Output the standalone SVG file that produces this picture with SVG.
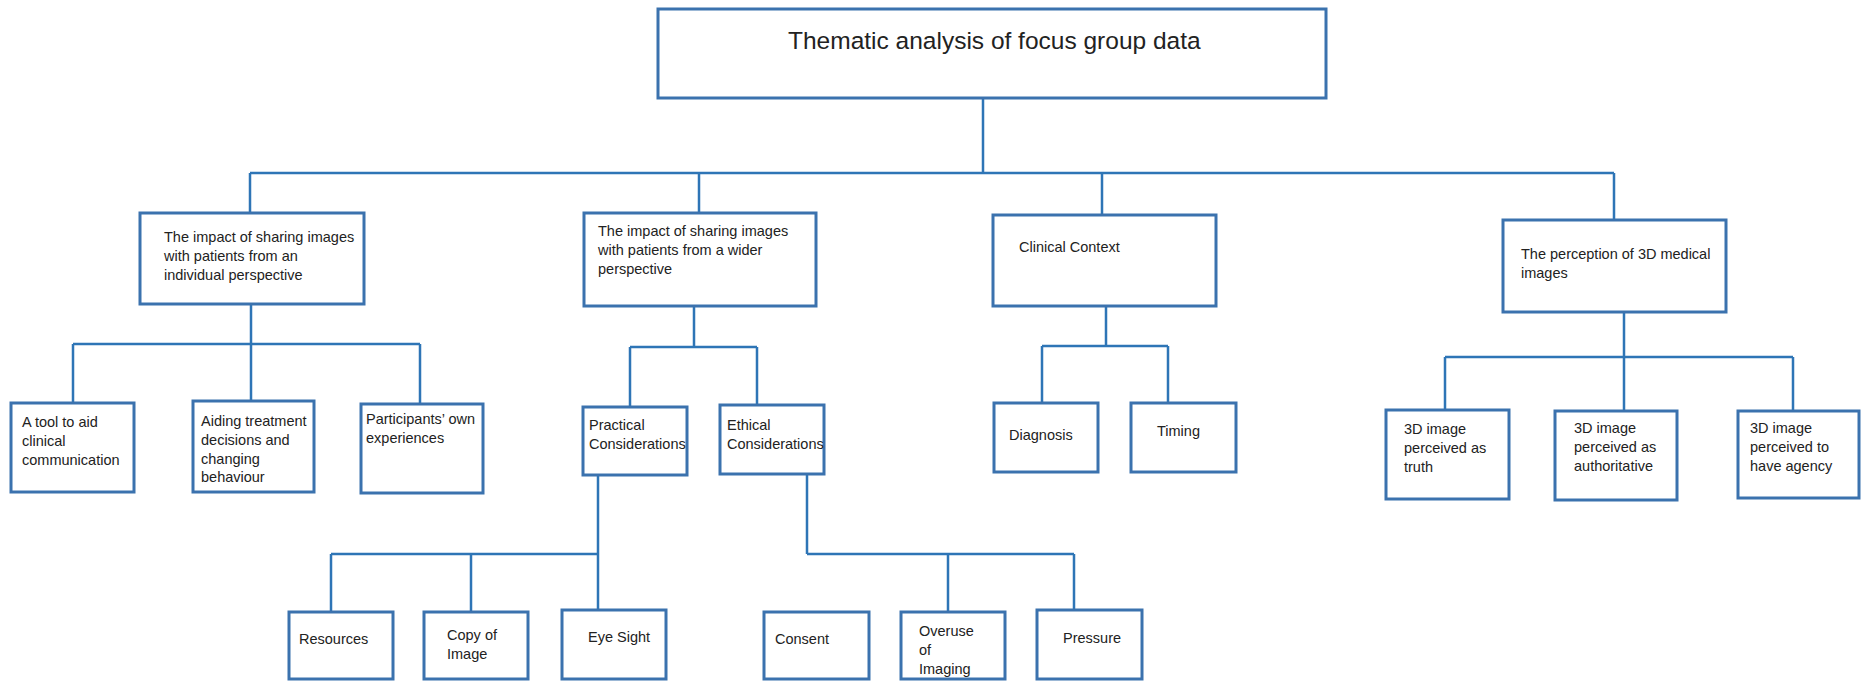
<svg xmlns="http://www.w3.org/2000/svg" width="1861" height="681" viewBox="0 0 1861 681">
<style>
  .box { fill: #ffffff; stroke: #3b72ae; stroke-width: 3; }
  .conn { fill: none; stroke: #2e75b6; stroke-width: 2.5; }
  .t { font-family: "Liberation Sans", Arial, sans-serif; font-size: 14.5px; fill: #222222; }
  .title { font-family: "Liberation Sans", Arial, sans-serif; font-size: 24.5px; fill: #222222; }
</style>
<rect width="1861" height="681" fill="#ffffff"/>
<g id="connectors">
  <path class="conn" d="M983,98 V173 M250,173 H1614 M250,173 V213 M699,173 V213 M1102,173 V215 M1614,173 V220"/>
  <path class="conn" d="M251,304 V344 M73,344 H420 M73,344 V403 M251,344 V401 M420,344 V404"/>
  <path class="conn" d="M694,306 V347 M630,347 H757 M630,347 V407 M757,347 V405"/>
  <path class="conn" d="M598,475 V554 M331,554 H598 M331,554 V612 M471,554 V612 M598,554 V610"/>
  <path class="conn" d="M807,474 V554 M807,554 H1074 M948,554 V612 M1074,554 V610"/>
  <path class="conn" d="M1106,306 V346 M1042,346 H1168 M1042,346 V403 M1168,346 V403"/>
  <path class="conn" d="M1624,312 V357 M1445,357 H1793 M1445,357 V410 M1624,357 V411 M1793,357 V411"/>
</g>
<g id="root">
  <rect class="box" x="658" y="9" width="668" height="89"/>
  <text class="title" x="788" y="49">Thematic analysis of focus group data</text>
</g>
<g id="individual">
  <rect class="box" x="140" y="213" width="224" height="91"/>
  <text class="t" x="164" y="242">The impact of sharing images</text>
  <text class="t" x="164" y="261">with patients from an</text>
  <text class="t" x="164" y="280">individual perspective</text>
</g>
<g id="wider">
  <rect class="box" x="584" y="213" width="232" height="93"/>
  <text class="t" x="598" y="236">The impact of sharing images</text>
  <text class="t" x="598" y="255">with patients from a wider</text>
  <text class="t" x="598" y="274">perspective</text>
</g>
<g id="clinical">
  <rect class="box" x="993" y="215" width="223" height="91"/>
  <text class="t" x="1019" y="252">Clinical Context</text>
</g>
<g id="perception">
  <rect class="box" x="1503" y="220" width="223" height="92"/>
  <text class="t" x="1521" y="259">The perception of 3D medical</text>
  <text class="t" x="1521" y="278">images</text>
</g>
<g id="tool">
  <rect class="box" x="11" y="403" width="123" height="89"/>
  <text class="t" x="22" y="427">A tool to aid</text>
  <text class="t" x="22" y="446">clinical</text>
  <text class="t" x="22" y="465">communication</text>
</g>
<g id="aiding">
  <rect class="box" x="193" y="401" width="121" height="91"/>
  <text class="t" x="201" y="426">Aiding treatment</text>
  <text class="t" x="201" y="445">decisions and</text>
  <text class="t" x="201" y="464">changing</text>
  <text class="t" x="201" y="482">behaviour</text>
</g>
<g id="participants">
  <rect class="box" x="361" y="404" width="122" height="89"/>
  <text class="t" x="366" y="424">Participants’ own</text>
  <text class="t" x="366" y="443">experiences</text>
</g>
<g id="practical">
  <rect class="box" x="583" y="407" width="104" height="68"/>
  <text class="t" x="589" y="430">Practical</text>
  <text class="t" x="589" y="449">Considerations</text>
</g>
<g id="ethical">
  <rect class="box" x="720" y="405" width="104" height="69"/>
  <text class="t" x="727" y="430">Ethical</text>
  <text class="t" x="727" y="449">Considerations</text>
</g>
<g id="resources">
  <rect class="box" x="289" y="612" width="104" height="67"/>
  <text class="t" x="299" y="644">Resources</text>
</g>
<g id="copy">
  <rect class="box" x="424" y="612" width="104" height="67"/>
  <text class="t" x="447" y="640">Copy of</text>
  <text class="t" x="447" y="659">Image</text>
</g>
<g id="eyesight">
  <rect class="box" x="562" y="610" width="104" height="69"/>
  <text class="t" x="588" y="642">Eye Sight</text>
</g>
<g id="consent">
  <rect class="box" x="764" y="612" width="105" height="67"/>
  <text class="t" x="775" y="644">Consent</text>
</g>
<g id="overuse">
  <rect class="box" x="901" y="612" width="104" height="67"/>
  <text class="t" x="919" y="636">Overuse</text>
  <text class="t" x="919" y="655">of</text>
  <text class="t" x="919" y="674">Imaging</text>
</g>
<g id="pressure">
  <rect class="box" x="1037" y="610" width="105" height="69"/>
  <text class="t" x="1063" y="643">Pressure</text>
</g>
<g id="diagnosis">
  <rect class="box" x="994" y="403" width="104" height="69"/>
  <text class="t" x="1009" y="440">Diagnosis</text>
</g>
<g id="timing">
  <rect class="box" x="1131" y="403" width="105" height="69"/>
  <text class="t" x="1157" y="436">Timing</text>
</g>
<g id="truth">
  <rect class="box" x="1386" y="410" width="123" height="89"/>
  <text class="t" x="1404" y="434">3D image</text>
  <text class="t" x="1404" y="453">perceived as</text>
  <text class="t" x="1404" y="472">truth</text>
</g>
<g id="authoritative">
  <rect class="box" x="1555" y="411" width="122" height="89"/>
  <text class="t" x="1574" y="433">3D image</text>
  <text class="t" x="1574" y="452">perceived as</text>
  <text class="t" x="1574" y="471">authoritative</text>
</g>
<g id="agency">
  <rect class="box" x="1738" y="411" width="121" height="87"/>
  <text class="t" x="1750" y="433">3D image</text>
  <text class="t" x="1750" y="452">perceived to</text>
  <text class="t" x="1750" y="471">have agency</text>
</g>
</svg>
